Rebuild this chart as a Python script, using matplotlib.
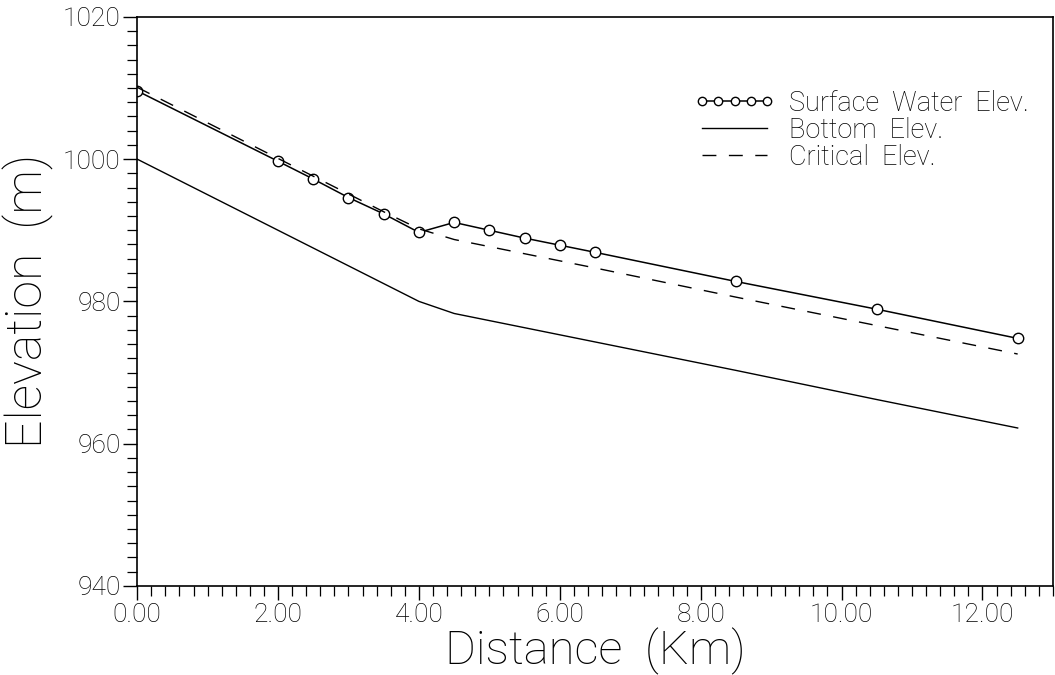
import matplotlib
matplotlib.use("Agg")
import matplotlib.pyplot as plt
from matplotlib.ticker import MultipleLocator, FormatStrFormatter

plt.rcParams['font.family'] = ['Roboto', 'DejaVu Sans']

# distance along the channel (km)
distance = [0.0, 2.0, 2.5, 3.0, 3.5, 4.0, 4.5, 5.0, 5.5, 6.0, 6.5, 8.5, 10.5, 12.5]
# elevations (m)
surface_elev = [1009.6, 999.7, 997.2, 994.6, 992.3, 989.7, 991.1, 990.0, 988.9,
                987.9, 986.9, 982.8, 978.9, 974.8]
bottom_elev = [1000.0, 990.0, 987.5, 985.0, 982.5, 980.0, 978.3, 977.3, 976.3,
               975.3, 974.3, 970.3, 966.2, 962.2]
critical_elev = [1010.1, 1000.1, 997.6, 995.1, 992.6, 990.2, 988.7, 987.7, 986.7,
                 985.7, 984.7, 980.6, 976.6, 972.6]

fig = plt.figure(figsize=(10.55, 6.75), dpi=100)
ax = fig.add_axes([0.130, 0.132, 0.868, 0.843])

ax.plot(distance, surface_elev, color='black', lw=1.1, marker='o', ms=7.5,
        mfc='white', mec='black', mew=1.0, label='Surface  Water  Elev.')
ax.plot(distance, bottom_elev, color='black', lw=1.0, label='Bottom  Elev.')
ax.plot(distance, critical_elev, color='black', lw=1.0, dashes=(10, 9),
        label='Critical  Elev.')

ax.set_xlim(0, 13)
ax.set_ylim(940, 1020)
ax.xaxis.set_major_locator(MultipleLocator(2))
ax.xaxis.set_minor_locator(MultipleLocator(0.2))
ax.yaxis.set_major_locator(MultipleLocator(20))
ax.yaxis.set_minor_locator(MultipleLocator(2))
ax.xaxis.set_major_formatter(FormatStrFormatter('%.2f'))
ax.tick_params(which='major', direction='out', length=10, width=1.0,
               labelsize=19, pad=2)
ax.tick_params(which='minor', direction='out', length=7, width=0.9)
ax.tick_params(top=False, right=False)
for lbl in ax.get_xticklabels() + ax.get_yticklabels():
    lbl.set_fontweight('light')
for s in ax.spines.values():
    s.set_linewidth(1.2)

ax.set_xlabel('Distance  (Km)', fontsize=34, fontweight='light', labelpad=1)
ax.set_ylabel('Elevation  (m)', fontsize=36, fontweight='light', labelpad=6)

leg = ax.legend(loc='upper right', bbox_to_anchor=(1.0, 0.915), frameon=False,
                fontsize=19.5, numpoints=5, markerscale=0.8, handlelength=3.0,
                handletextpad=0.5, labelspacing=0.0)
for t in leg.get_texts():
    t.set_fontweight('light')

fig.savefig('out.png', dpi=100)
